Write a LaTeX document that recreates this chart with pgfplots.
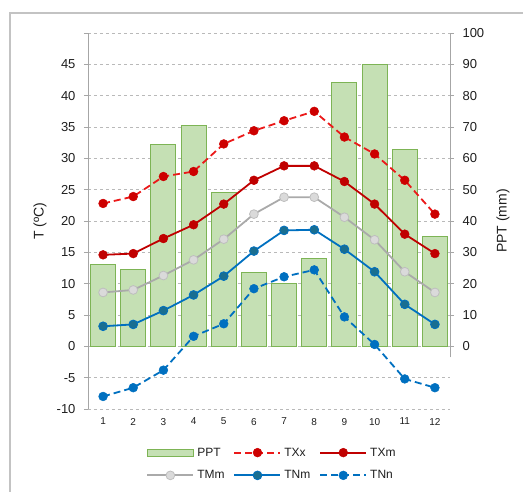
\documentclass[border=0pt]{standalone}
\usepackage{pgfplots}
\pgfplotsset{compat=1.18}
\usepackage{fontspec}
\setmainfont{Liberation Sans}
\definecolor{txt}{RGB}{30,30,30}
\definecolor{axisgray}{RGB}{166,166,166}
\definecolor{gridgray}{RGB}{185,185,185}
\definecolor{framegray}{RGB}{195,195,195}
\definecolor{barfill}{RGB}{197,224,180}
\definecolor{baredge}{RGB}{125,180,85}
\definecolor{txxline}{RGB}{235,25,25}
\definecolor{txxmark}{RGB}{205,0,0}
\definecolor{txm}{RGB}{192,0,0}
\definecolor{tmmline}{RGB}{170,170,170}
\definecolor{tmmfill}{RGB}{218,218,218}
\definecolor{tmmedge}{RGB}{190,190,190}
\definecolor{tnm}{RGB}{0,112,192}
\definecolor{tnmfill}{RGB}{25,110,145}
\definecolor{tnn}{RGB}{0,112,192}
\begin{document}
\begin{tikzpicture}
\path[use as bounding box] (-88pt,-82pt) rectangle (435pt,409pt);
% PPT axis (right), with bars and grid
\begin{axis}[
  at={(0pt,0pt)}, anchor=south west,
  scale only axis, width=362pt, height=376pt,
  xmin=0.5, xmax=12.5, ymin=-20, ymax=100,
  axis x line=none,
  axis y line*=right,
  y axis line style={draw=none},
  ytick={0,10,...,100},
  extra y ticks={-20,-10}, extra y tick labels={},
  extra y tick style={grid=major, major tick length=0pt},
  ymajorgrids,
  grid style={gridgray, dash pattern=on 3pt off 3pt, line width=0.8pt},
  tick align=outside, major tick length=4pt,
  ytick style={axisgray, line width=0.8pt},
  yticklabel style={font=\fontsize{13}{15}\selectfont, text=txt, xshift=5pt},
  /pgf/number format/assume math mode=true,
  ylabel={PPT (mm)},
  every axis y label/.style={at={(axis description cs:1.1464,0.5)}, rotate=90, anchor=center, font=\fontsize{14}{16}\selectfont, text=txt},
  clip=false,
]
\addplot[ybar, bar width=25pt, fill=barfill, draw=baredge, line width=1pt] coordinates {
  (1,26) (2,24.5) (3,64.5) (4,70.5) (5,49) (6,23.6) (7,20) (8,27.9) (9,84.3) (10,90) (11,62.9) (12,35.1)};
\draw[axisgray, line width=0.8pt] (axis cs:12.5,-3.5) -- (axis cs:12.5,100);
\end{axis}
% Temperature axis (left)
\begin{axis}[
  at={(0pt,0pt)}, anchor=south west,
  scale only axis, width=362pt, height=376pt,
  xmin=0.5, xmax=12.5, ymin=-10, ymax=50,
  axis y line*=left, axis x line*=bottom,
  x axis line style={draw=none},
  y axis line style={-, axisgray, line width=0.8pt},
  xtick={1,...,12}, xtick style={draw=none},
  xticklabel style={font=\fontsize{10}{12}\selectfont, text=txt, yshift=-1.5pt},
  ytick={-10,-5,...,45}, extra y ticks={50}, extra y tick labels={},
  tick align=outside, major tick length=4pt,
  ytick style={axisgray, line width=0.8pt},
  yticklabel style={font=\fontsize{13}{15}\selectfont, text=txt, xshift=-5pt},
  /pgf/number format/assume math mode=true,
  ylabel={T (ºC)},
  every axis y label/.style={at={(axis description cs:-0.1326,0.5)}, rotate=90, anchor=center, font=\fontsize{14}{16}\selectfont, text=txt},
  clip=false,
  legend columns=3,
  legend style={draw=none, fill=none, at={(axis description cs:0.5,0)}, anchor=center,
    yshift=-55pt, xshift=3pt, font=\fontsize{12}{14}\selectfont, text=txt,
    /tikz/every even column/.append style={column sep=7pt},
    /tikz/every odd column/.append style={column sep=1pt}, row sep=9pt},
  legend cell align=left,
  legend image code/.code={\draw[mark repeat=2,mark phase=2,#1] plot coordinates {(0pt,0pt) (23pt,0pt) (46pt,0pt)};},
  every axis plot/.append style={line width=1.8pt, mark=*, mark size=4.4pt},
]
\addlegendimage{legend image code/.code={\draw[fill=barfill, draw=baredge, line width=1pt] (0pt,-3.5pt) rectangle (46pt,3.5pt);}}
\addlegendentry{PPT}
\addplot[txxline, dash pattern=on 7pt off 4pt, mark options={solid, fill=txxmark, draw=txxmark, line width=0.5pt}] coordinates {
  (1,22.8) (2,23.9) (3,27.1) (4,27.9) (5,32.3) (6,34.4) (7,36.0) (8,37.5) (9,33.4) (10,30.7) (11,26.5) (12,21.1)};
\addlegendentry{TXx}
\addplot[txm, mark options={solid, fill=txm, draw=txm, line width=0.5pt}] coordinates {
  (1,14.6) (2,14.8) (3,17.2) (4,19.4) (5,22.7) (6,26.5) (7,28.8) (8,28.8) (9,26.3) (10,22.7) (11,17.9) (12,14.8)};
\addlegendentry{TXm}
\addplot[tmmline, mark options={solid, fill=tmmfill, draw=tmmedge, line width=0.8pt}] coordinates {
  (1,8.6) (2,9.0) (3,11.3) (4,13.8) (5,17.1) (6,21.1) (7,23.8) (8,23.8) (9,20.6) (10,17.0) (11,11.9) (12,8.6)};
\addlegendentry{TMm}
\addplot[tnm, mark options={solid, fill=tnmfill, draw=tnm, line width=0.8pt}] coordinates {
  (1,3.2) (2,3.5) (3,5.7) (4,8.2) (5,11.2) (6,15.2) (7,18.5) (8,18.6) (9,15.5) (10,11.9) (11,6.7) (12,3.5)};
\addlegendentry{TNm}
\addplot[tnn, dash pattern=on 7pt off 4pt, mark options={solid, fill=tnn, draw=tnn, line width=0.5pt}] coordinates {
  (1,-8.0) (2,-6.6) (3,-3.8) (4,1.6) (5,3.6) (6,9.2) (7,11.1) (8,12.2) (9,4.7) (10,0.3) (11,-5.2) (12,-6.6)};
\addlegendentry{TNn}
\end{axis}
\draw[framegray, line width=1.5pt] (-78pt,-100pt) -- (-78pt,396pt) -- (460pt,396pt);
\end{tikzpicture}
\end{document}
